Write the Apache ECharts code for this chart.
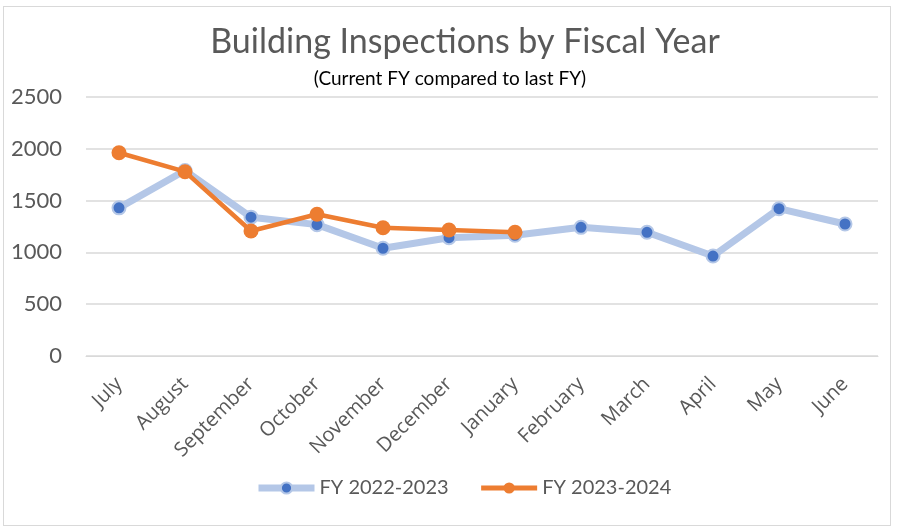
<!DOCTYPE html>
<html>
<head>
<meta charset="utf-8">
<script src="https://cdn.jsdelivr.net/npm/echarts@6/dist/echarts.min.js"></script>
<style>
  html, body { margin: 0; padding: 0; background: #fff; }
  #frame { position: absolute; left: 3px; top: 6px; width: 886px; height: 518px; border: 1px solid #d9d9d9; }
  #chart { position: absolute; left: 0; top: 0; width: 900px; height: 527px; }
</style>
</head>
<body>
<div id="frame"></div>
<div id="chart"></div>
<script>
const months = ['July', 'August', 'September', 'October', 'November', 'December', 'January', 'February', 'March', 'April', 'May', 'June']
const fy2223 = [1430, 1790, 1340, 1268, 1040, 1142, 1165, 1242, 1194, 965, 1422, 1274]
const fy2324 = [1962, 1779, 1207, 1368, 1238, 1216, 1194]

const font = 'Lato, "Open Sans", sans-serif'
const labelFont = '"Open Sans", Lato, sans-serif'

const myChart = echarts.init(document.getElementById('chart'))
const option = {
  animation: false,
  title: [
    {
      text: 'Building Inspections by Fiscal Year',
      left: 460,
      top: 20,
      textAlign: 'center',
      textStyle: { fontFamily: font, fontSize: 34, fontWeight: 'normal', color: '#595959' }
    },
    {
      text: '(Current FY compared to last FY)',
      left: 445,
      top: 64,
      textAlign: 'center',
      textStyle: { fontFamily: font, fontSize: 19, fontWeight: 'normal', color: '#000' }
    }
  ],
  legend: {
    bottom: 24,
    left: 250,
    itemWidth: 56,
    itemHeight: 14,
    itemGap: 30,
    textStyle: { fontFamily: font, fontSize: 20, color: '#595959' },
    data: [
      { name: 'FY 2022-2023', lineStyle: { width: 7, color: '#b4c7e7' } },
      { name: 'FY 2023-2024', lineStyle: { width: 5, color: '#ed7d31' } }
    ]
  },
  grid: { left: 86, right: 22, top: 97, bottom: 171 },
  xAxis: {
    type: 'category',
    data: months,
    boundaryGap: true,
    axisLine: { lineStyle: { color: '#d9d9d9' } },
    axisTick: { show: false },
    axisLabel: { rotate: 45, fontFamily: labelFont, fontSize: 20, color: '#595959', interval: 0, margin: 25 }
  },
  yAxis: {
    type: 'value',
    min: 0,
    max: 2500,
    interval: 500,
    axisLine: { show: false },
    axisTick: { show: false },
    axisLabel: { fontFamily: font, fontSize: 22, color: '#595959', margin: 24, formatter: v => String(v) },
    splitLine: { lineStyle: { color: '#d9d9d9', width: 1.5 } }
  },
  series: [
    {
      name: 'FY 2022-2023',
      type: 'line',
      data: fy2223,
      symbol: 'circle',
      symbolSize: 13,
      lineStyle: { color: '#b4c7e7', width: 7 },
      itemStyle: { color: '#4472c4', borderColor: '#b4c7e7', borderWidth: 2 },
      z: 2
    },
    {
      name: 'FY 2023-2024',
      type: 'line',
      data: fy2324,
      symbol: 'circle',
      symbolSize: 15,
      lineStyle: { color: '#ed7d31', width: 4.5 },
      itemStyle: { color: '#ed7d31' },
      z: 3
    }
  ]
}
myChart.setOption(option)
</script>
</body>
</html>
